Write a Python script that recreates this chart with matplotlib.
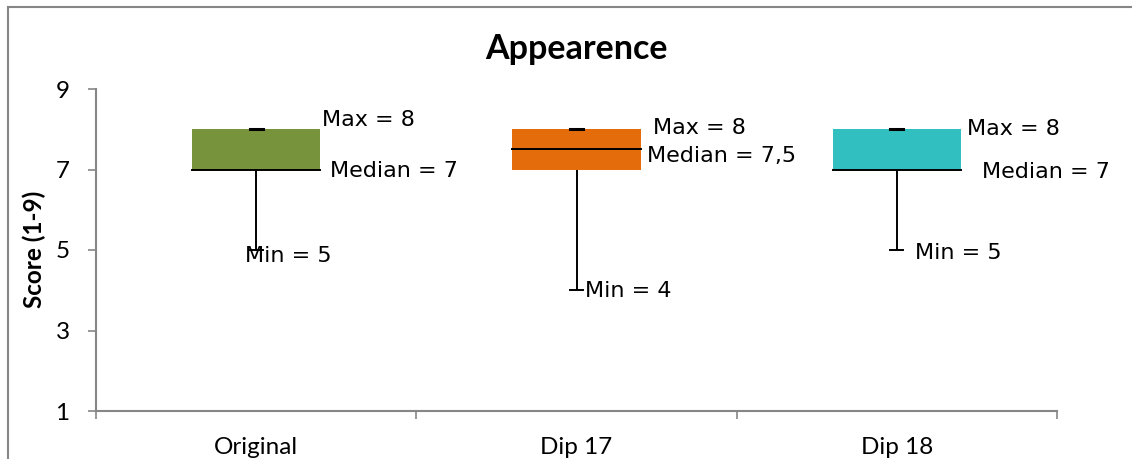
import matplotlib
matplotlib.use("Agg")
import matplotlib.pyplot as plt
from matplotlib.lines import Line2D
from matplotlib.patches import Rectangle

# Summary statistics per sample
categories = ["Original", "Dip 17", "Dip 18"]
q1_values = [7, 7, 7]
q3_values = [8, 8, 8]
median_values = [7, 7.5, 7]
min_values = [5, 4, 5]
max_values = [8, 8, 8]
y_ticks = [1, 3, 5, 7, 9]

box_colors = ["#77933C", "#E46C0A", "#31BFBF"]

# Label offsets (x in category units, y in score units) from the value they describe
max_offsets = [(0.206, 0.22), (0.239, 0.04), (0.219, 0.0)]
median_offsets = [(0.231, -0.03), (0.220, -0.16), (0.266, -0.07)]
min_offsets = [(-0.035, -0.14), (0.027, -0.01), (0.057, -0.07)]

W, H, DPI = 1132, 459, 100
fig = plt.figure(figsize=(W / DPI, H / DPI), dpi=DPI)
ax = fig.add_axes([96 / W, 1 - 411 / H, (1057 - 96) / W, (411 - 89) / H])

grey = "#868686"
calibri_like = "Lato"
label_font = "DejaVu Sans"
box_w = 0.4
cap_w = 0.04


def fmt(v):
    return f"{v:g}".replace(".", ",")


for i, cat in enumerate(categories):
    # whisker from minimum to lower quartile
    ax.plot([i, i], [min_values[i], q1_values[i]], color="black", lw=1.4, zorder=2,
            solid_capstyle="butt")
    ax.plot([i - cap_w / 2, i + cap_w / 2], [min_values[i]] * 2, color="black", lw=1.4, zorder=2)
    # box between quartiles
    ax.add_patch(Rectangle((i - box_w / 2, q1_values[i]), box_w, q3_values[i] - q1_values[i],
                           facecolor=box_colors[i], edgecolor="none", zorder=3))
    # median line
    ax.plot([i - box_w / 2, i + box_w / 2], [median_values[i]] * 2, color="black", lw=1.4, zorder=4)
    # maximum marker
    ax.plot([i - cap_w / 2, i + cap_w / 2], [max_values[i]] * 2, color="black", lw=2.2, zorder=5)

    dx, dy = max_offsets[i]
    ax.text(i + dx, max_values[i] + dy, f"Max = {fmt(max_values[i])}", ha="left", va="center",
            fontsize=16, family=label_font, zorder=6)
    dx, dy = median_offsets[i]
    ax.text(i + dx, median_values[i] + dy, f"Median = {fmt(median_values[i])}", ha="left",
            va="center", fontsize=16, family=label_font, zorder=6)
    dx, dy = min_offsets[i]
    ax.text(i + dx, min_values[i] + dy, f"Min = {fmt(min_values[i])}", ha="left", va="center",
            fontsize=16, family=label_font, zorder=6)

ax.set_xlim(-0.5, len(categories) - 0.5)
ax.set_ylim(y_ticks[0], y_ticks[-1])

for side in ["top", "right"]:
    ax.spines[side].set_visible(False)
for side in ["left", "bottom"]:
    ax.spines[side].set_color(grey)
    ax.spines[side].set_linewidth(1.5)

ax.set_yticks(y_ticks)
ax.set_yticklabels([str(t) for t in y_ticks], family=calibri_like, fontsize=17.5)
ax.tick_params(axis="y", direction="out", length=6, width=1.2, color=grey, pad=13)

ax.set_xticks(range(len(categories)))
ax.set_xticklabels(categories, family=calibri_like, fontsize=17.5)
ax.set_xticks([k - 0.5 for k in range(len(categories) + 1)], minor=True)
ax.tick_params(axis="x", which="major", length=0, pad=18.5)
ax.tick_params(axis="x", which="minor", direction="out", length=6, width=1.2, color=grey)

fig.text(576.5 / W, 1 - 59 / H, "Appearence", ha="center", va="baseline",
         fontsize=24.5, fontweight="bold", family=calibri_like)
fig.text(34 / W, 1 - 249 / H, "Score (1-9)", ha="center", va="center", rotation=90,
         fontsize=17.5, fontweight="bold", family=calibri_like)

# chart frame
fig.add_artist(Line2D([8 / W, 1.0], [1 - 7 / H] * 2, color=grey, lw=1.5))
fig.add_artist(Line2D([8 / W] * 2, [0.0, 1 - 7 / H], color=grey, lw=1.5))

fig.savefig("out.png", dpi=DPI, facecolor="white")
